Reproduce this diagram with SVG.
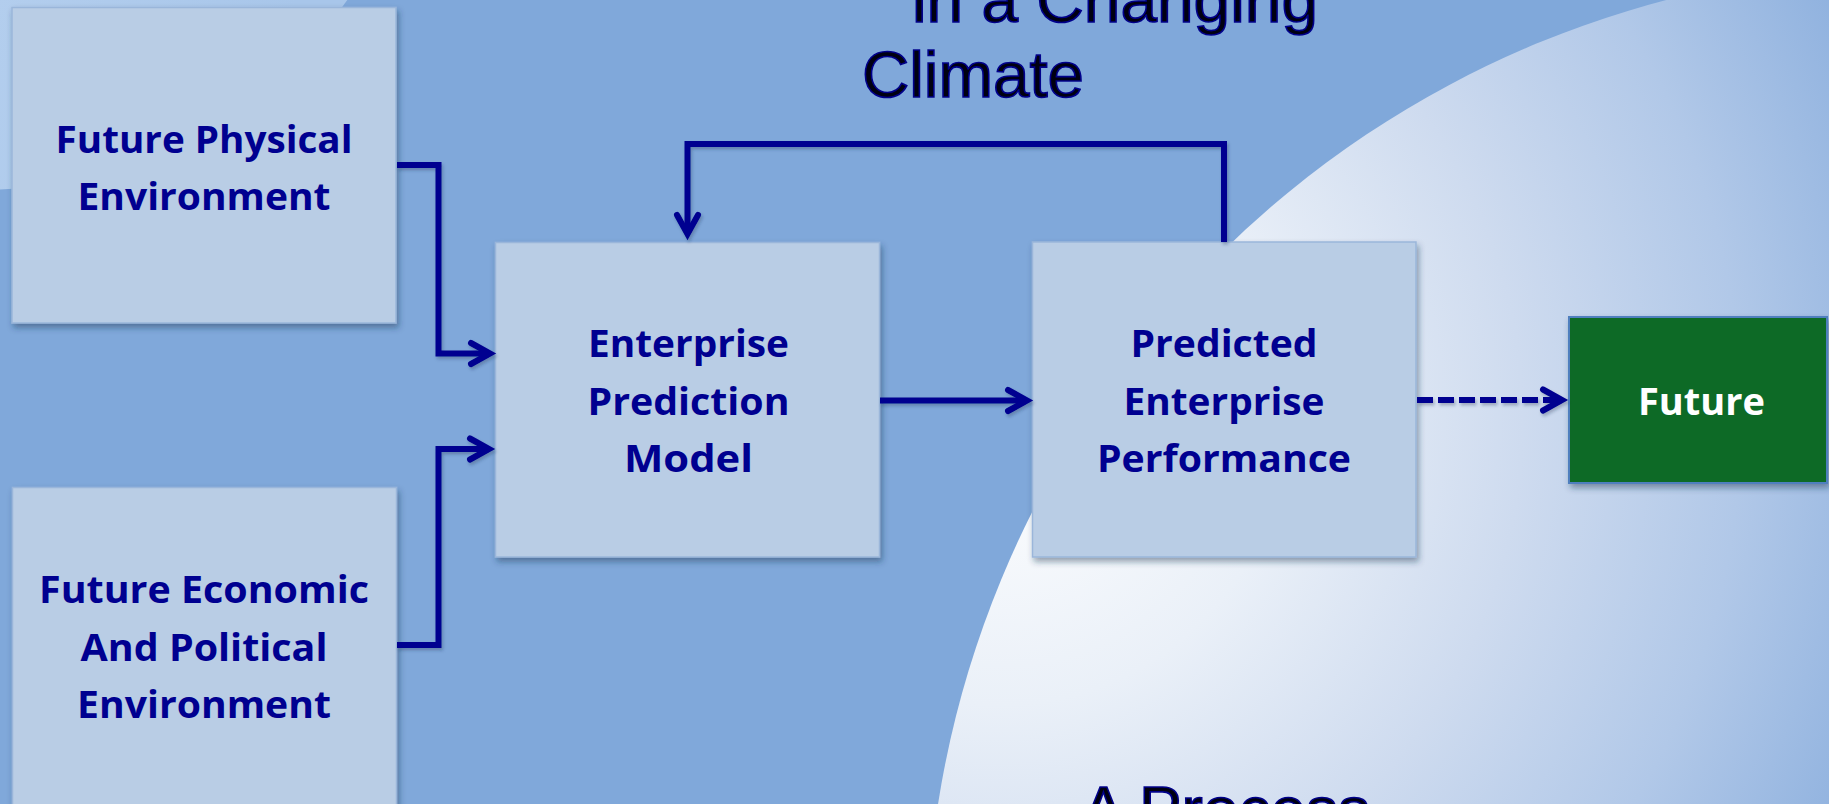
<svg xmlns="http://www.w3.org/2000/svg" width="1829" height="804" viewBox="0 0 1829 804">
<defs>
<style>
.bg{fill:#80A8DA}
.box{fill:#B9CDE5;stroke:#9AB6DA;stroke-width:1.5;filter:url(#shadow)}
.green{fill:#086B28;stroke:#4F7FBE;stroke-width:2;filter:url(#shadow)}
.lbl{font-family:"Open Sans","Liberation Sans",sans-serif;font-weight:700;font-size:38px;fill:#000090;text-anchor:middle}
.lblw{fill:#FFFFFF}
.title{font-family:"Liberation Sans",Arial,sans-serif;font-size:65px;fill:#000010;stroke:#00008B;stroke-width:1.6}
.conn{fill:none;stroke:#000090;stroke-width:6;stroke-linejoin:miter;stroke-linecap:butt;filter:url(#lshadow)}
.dash{stroke-dasharray:16 5}
</style>
<radialGradient id="bigCircle" gradientUnits="userSpaceOnUse" cx="1000" cy="420" r="950">
<stop offset="0" stop-color="#FFFFFF"/>
<stop offset="0.3" stop-color="#EAF0F8"/>
<stop offset="0.55" stop-color="#CEDBEF"/>
<stop offset="0.78" stop-color="#B1C8E8"/>
<stop offset="1" stop-color="#8DB0DE"/>
</radialGradient>
<linearGradient id="tl" x1="0" y1="0" x2="1" y2="0.3">
<stop offset="0" stop-color="#CCE0F6"/>
<stop offset="1" stop-color="#A8C6EA"/>
</linearGradient>
<filter id="shadow" x="-5%" y="-5%" width="115%" height="120%">
<feDropShadow dx="2" dy="4" stdDeviation="3" flood-color="#1F3050" flood-opacity="0.45"/>
</filter>
<filter id="lshadow" filterUnits="userSpaceOnUse" x="0" y="0" width="1829" height="804">
<feDropShadow dx="1.5" dy="2.5" stdDeviation="1.5" flood-color="#1F3050" flood-opacity="0.3"/>
</filter>
<marker id="arrow" markerUnits="userSpaceOnUse" markerWidth="44" markerHeight="44" viewBox="-30 -22 44 44" refX="0" refY="0" orient="auto">
<path d="M -19 -10.5 L 0 0 L -19 10.5" fill="none" stroke="#000090" stroke-width="6" stroke-linecap="round" stroke-linejoin="miter" stroke-dasharray="none"/>
</marker>
</defs>

<rect class="bg" x="0" y="0" width="1829" height="804"/>
<circle cx="1916" cy="958" r="990" fill="url(#bigCircle)"/>
<circle cx="-20" cy="-260" r="450" fill="url(#tl)"/>

<g id="title">
<text class="title" x="912" y="22" textLength="406" lengthAdjust="spacingAndGlyphs">in a Changing</text>
<text class="title" x="862" y="97" textLength="222" lengthAdjust="spacingAndGlyphs">Climate</text>
<text class="title" x="1082" y="832" textLength="288" lengthAdjust="spacingAndGlyphs">A Process</text>
</g>

<g id="node-physical">
<rect class="box" x="12" y="7.5" width="384" height="315.5"/>
<text class="lbl" x="204" y="152.5" textLength="297" lengthAdjust="spacingAndGlyphs">Future Physical</text>
<text class="lbl" x="204" y="209.5" textLength="253" lengthAdjust="spacingAndGlyphs">Environment</text>
</g>

<g id="node-economic">
<rect class="box" x="12.5" y="487.5" width="384" height="330"/>
<text class="lbl" x="204" y="603" textLength="330" lengthAdjust="spacingAndGlyphs">Future Economic</text>
<text class="lbl" x="204" y="660.5" textLength="247" lengthAdjust="spacingAndGlyphs">And Political</text>
<text class="lbl" x="204" y="718" textLength="254" lengthAdjust="spacingAndGlyphs">Environment</text>
</g>

<g id="node-model">
<rect class="box" x="495.5" y="242.5" width="384" height="314.5"/>
<text class="lbl" x="688.5" y="357" textLength="201" lengthAdjust="spacingAndGlyphs">Enterprise</text>
<text class="lbl" x="688.5" y="414.5" textLength="202" lengthAdjust="spacingAndGlyphs">Prediction</text>
<text class="lbl" x="688.5" y="472" textLength="129" lengthAdjust="spacingAndGlyphs">Model</text>
</g>

<g id="node-performance">
<rect class="box" x="1032.5" y="242" width="383.5" height="315"/>
<text class="lbl" x="1224" y="357" textLength="187" lengthAdjust="spacingAndGlyphs">Predicted</text>
<text class="lbl" x="1224" y="414.5" textLength="201" lengthAdjust="spacingAndGlyphs">Enterprise</text>
<text class="lbl" x="1224" y="472" textLength="254" lengthAdjust="spacingAndGlyphs">Performance</text>
</g>

<g id="node-future">
<rect class="green" x="1569" y="317" width="258" height="166"/>
<text class="lbl lblw" x="1701.5" y="415" textLength="127" lengthAdjust="spacingAndGlyphs">Future</text>
</g>

<g id="connectors">
<path class="conn" d="M 397 165 H 438.5 V 353.5 H 490" marker-end="url(#arrow)"/>
<path class="conn" d="M 397 645 H 438.5 V 449 H 489" marker-end="url(#arrow)"/>
<path class="conn" d="M 880 400.5 H 1027" marker-end="url(#arrow)"/>
<path class="conn" d="M 1224 242 V 144 H 687.5 V 234" marker-end="url(#arrow)"/>
<path class="conn dash" d="M 1417 400 H 1562" marker-end="url(#arrow)"/>
</g>
</svg>
